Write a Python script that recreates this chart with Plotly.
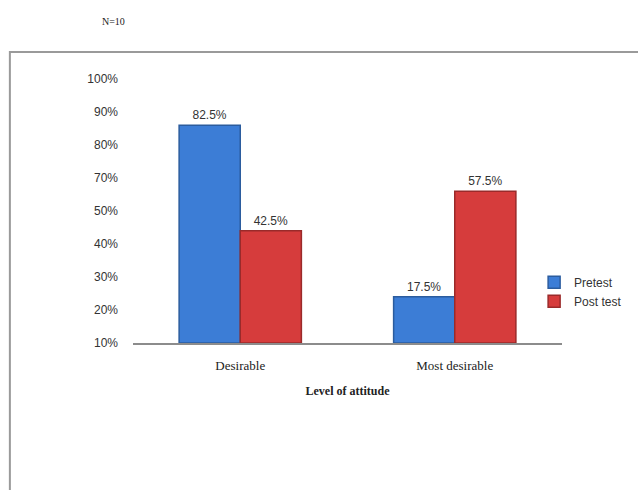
import plotly.graph_objects as go

categories = ["Desirable", "Most desirable"]
pretest = [82.5, 17.5]
posttest = [42.5, 57.5]
series_names = ["Pretest", "Post test"]
tick_vals = [0, 12.5, 25, 37.5, 50, 62.5, 75, 87.5, 100]
tick_text = ["10%", "20%", "30%", "40%", "50%", "70%", "80%", "90%", "100%"]

fig = go.Figure()
fig.add_trace(go.Bar(
    x=categories, y=pretest, name=series_names[0],
    marker=dict(color="#3c7dd6", line=dict(color="#2b5c9e", width=1.5)),
    text=[f"{v}%" for v in pretest], textposition="outside",
    textfont=dict(family="Liberation Sans", size=12, color="#333333"),
    cliponaxis=False,
))
fig.add_trace(go.Bar(
    x=categories, y=posttest, name=series_names[1],
    marker=dict(color="#d63c3c", line=dict(color="#9a2a2a", width=1.5)),
    text=[f"{v}%" for v in posttest], textposition="outside",
    textfont=dict(family="Liberation Sans", size=12, color="#333333"),
    cliponaxis=False,
))

fig.update_layout(
    width=638, height=490,
    margin=dict(l=133, r=76, t=79, b=147, autoexpand=False),
    paper_bgcolor="white", plot_bgcolor="white",
    barmode="group", bargap=0.43, bargroupgap=0,
    showlegend=True,
    legend=dict(x=0.935, y=0.285, xanchor="left", yanchor="top",
                font=dict(family="Liberation Sans", size=12, color="#333333"),
                bgcolor="rgba(0,0,0,0)", itemwidth=30, tracegroupgap=0),
    xaxis=dict(
        showline=True, linecolor="#8c8c8c", linewidth=1.5,
        ticks="", showgrid=False, ticklabelstandoff=10,
        tickfont=dict(family="Liberation Serif", size=13, color="#222222"),
        title=dict(text="<b>Level of attitude</b>",
                   font=dict(family="Liberation Serif", size=12, color="#222222"),
                   standoff=14),
    ),
    yaxis=dict(
        range=[0, 100], tickvals=tick_vals, ticktext=tick_text,
        showgrid=False, zeroline=False, showline=False, ticks="",
        tickfont=dict(family="Liberation Sans", size=12, color="#333333"),
        ticklabelstandoff=14,
    ),
    shapes=[dict(type="rect", xref="paper", yref="paper",
                 x0=-0.287, x1=1.3, y0=-0.7, y1=1.102,
                 line=dict(color="#9a9a9a", width=2))],
    annotations=[dict(text="N=10", xref="paper", yref="paper",
                      x=-0.077, y=1.245, showarrow=False,
                      font=dict(family="Liberation Serif", size=10, color="#222222"))],
)

fig.write_html("out.html")
